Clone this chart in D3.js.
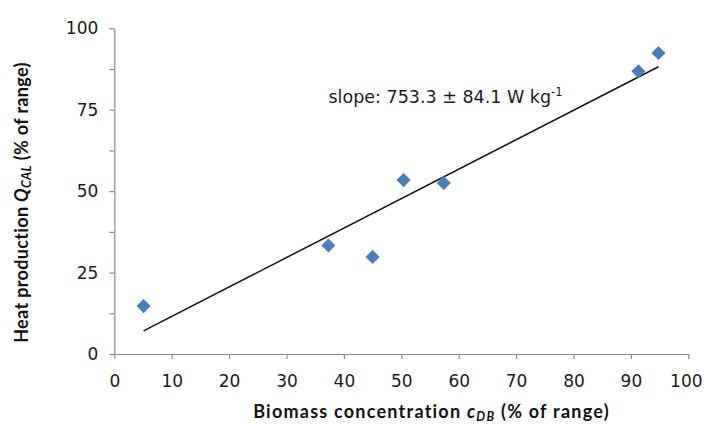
<!DOCTYPE html>
<html>
<head>
<meta charset="utf-8">
<script src="https://cdn.jsdelivr.net/npm/d3@7"></script>
<style>
  html, body { margin: 0; padding: 0; background: #fff; }
  svg { display: block; }
</style>
</head>
<body>
<div id="chart"></div>
<script>
// Biomass concentration vs. heat production, both as % of range
const biomass = [5.1, 37.3, 45.0, 50.4, 57.4, 91.3, 94.8];
const heat    = [14.7, 33.3, 29.8, 53.4, 52.5, 86.8, 92.4];

// Linear trend line endpoints
const trendX = [5.1, 94.8];
const trendY = [7.1, 88.2];

const xTicks = [0, 10, 20, 30, 40, 50, 60, 70, 80, 90, 100];
const yTicks = [0, 12.5, 25, 37.5, 50, 62.5, 75, 87.5, 100];
const yLabelled = [0, 25, 50, 75, 100];

const slopeText = "slope: 753.3 \u00B1 84.1 W kg";
const slopeExp = "-1";

const W = 704, H = 424;
const plot = { left: 114.3, right: 688.3, top: 28.3, bottom: 354 };

const svg = d3.select("#chart").append("svg")
  .attr("width", W).attr("height", H);

const x = d3.scaleLinear().domain([0, 100]).range([plot.left, plot.right]);
const y = d3.scaleLinear().domain([0, 100]).range([plot.bottom, plot.top]);

const axisColor = "#8a8a8a";
const tickFont = "'DejaVu Sans', Verdana, sans-serif";

// y axis
const gy = svg.append("g")
  .attr("transform", `translate(${plot.left},0)`)
  .call(d3.axisLeft(y)
    .tickValues(yTicks)
    .tickSize(5)
    .tickSizeOuter(0)
    .tickPadding(11)
    .tickFormat(d => yLabelled.includes(d) ? d3.format("d")(d) : ""));

// x axis
const gx = svg.append("g")
  .attr("transform", `translate(0,${plot.bottom})`)
  .call(d3.axisBottom(x)
    .tickValues(xTicks)
    .tickSize(5)
    .tickSizeOuter(0)
    .tickPadding(15.6)
    .tickFormat(d3.format("d")));

[gx, gy].forEach(g => {
  g.select(".domain").attr("stroke", axisColor).attr("stroke-width", 1.2);
  g.selectAll(".tick line").attr("stroke", axisColor).attr("stroke-width", 1.2);
  g.selectAll(".tick text")
    .attr("fill", "#1a1a1a")
    .style("font-family", tickFont)
    .style("font-size", "17px");
});
// keep the last x label inside the frame
gx.selectAll(".tick text").filter(d => d === 100).attr("dx", -2.5);

// trend line
svg.append("line")
  .attr("x1", x(trendX[0])).attr("y1", y(trendY[0]))
  .attr("x2", x(trendX[1])).attr("y2", y(trendY[1]))
  .attr("stroke", "#111")
  .attr("stroke-width", 1.5);

// diamond markers
const diamond = d3.symbol().type(d3.symbolSquare).size(100);
svg.append("g").selectAll("path")
  .data(biomass.map((b, i) => [b, heat[i]]))
  .join("path")
  .attr("d", diamond)
  .attr("transform", d => `translate(${x(d[0])},${y(d[1])}) rotate(45)`)
  .attr("fill", "#4a7ebb");

// slope annotation
const ann = svg.append("text")
  .attr("x", 328.5).attr("y", 102.5)
  .style("font-family", tickFont)
  .style("font-size", "17.5px")
  .attr("fill", "#1a1a1a");
ann.append("tspan").text(slopeText);
ann.append("tspan")
  .attr("dy", -7).style("font-size", "11.5px")
  .text(slopeExp);

// axis titles
const titleFont = "Lato, 'Open Sans', sans-serif";

function title(parts, transform, span) {
  const t = svg.append("text")
    .attr("transform", transform)
    .attr("text-anchor", "middle")
    .style("font-family", titleFont)
    .style("font-weight", 700)
    .style("font-size", "18px")
    .attr("fill", "#111");
  parts.forEach(p => {
    const s = t.append("tspan").text(p.text);
    if (p.italic) s.style("font-style", "italic");
    if (p.sub) s.style("font-size", "12.5px").attr("dy", 3);
    if (p.after) s.attr("dy", -3);
  });
  // spread the letters so the title covers its span
  const n = parts.reduce((a, p) => a + p.text.length, 0);
  const len = t.node().getComputedTextLength();
  t.style("letter-spacing", ((span - len) / n) + "px");
  return t;
}

title([
  { text: "Biomass concentration " },
  { text: "c", italic: true },
  { text: "DB", italic: true, sub: true },
  { text: " (% of range)", after: true }
], `translate(${(253 + 610) / 2},417.5)`, 357);

title([
  { text: "Heat production " },
  { text: "Q", italic: true },
  { text: "CAL", italic: true, sub: true },
  { text: " (% of range)", after: true }
], `translate(27.7,${(62 + 343) / 2}) rotate(-90)`, 281);
</script>
</body>
</html>
